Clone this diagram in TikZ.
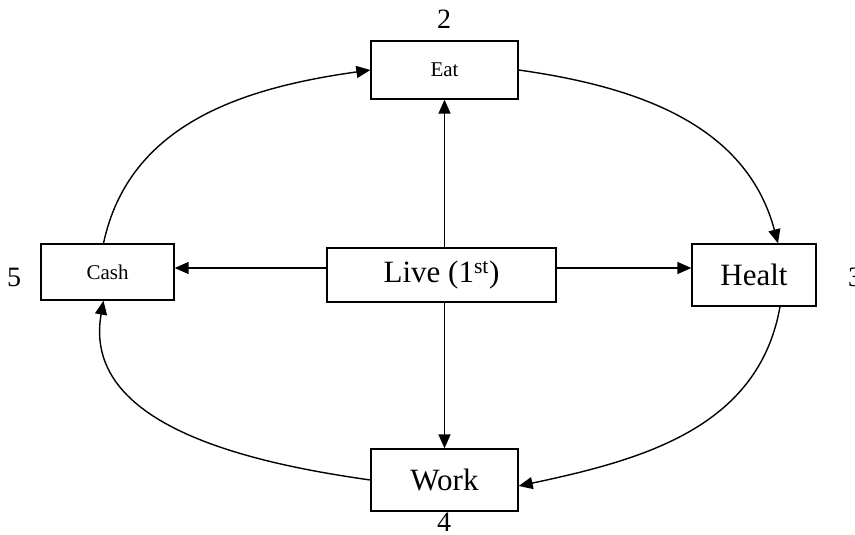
\documentclass[tikz,border=0pt]{standalone}
\usepackage{fontspec}
\setmainfont{Liberation Serif}
\usetikzlibrary{arrows.meta}

\begin{document}
\begin{tikzpicture}[x=1pt,y=1pt,
  box/.style={draw,line width=1.3pt,inner sep=0pt},
  big/.style={font=\fontsize{31}{36}\selectfont},
  small/.style={font=\fontsize{21}{25}\selectfont},
  num/.style={font=\fontsize{28}{32}\selectfont},
  arr/.style={line width=1.4pt,-{Triangle[length=14pt,width=12pt]}}]

\useasboundingbox (0,0) rectangle (855,-535);

\node[box,small,minimum width=147pt,minimum height=58pt] (eat) at (444.5,-70) {Eat};
\node[box,small,minimum width=133pt,minimum height=56pt] (cash) at (107.5,-272) {Cash};
\node[box,big,minimum width=229pt,minimum height=54pt] (live) at (441.5,-275) {Live (1\textsuperscript{st})};
\node[box,big,minimum width=124pt,minimum height=62pt] (healt) at (754,-275) {Healt};
\node[box,big,minimum width=147pt,minimum height=62pt] (work) at (444.5,-480) {Work};

% order numbers
\node[num] (n2) at (444,-19) {2};
\node[num] (n5) at (14,-277) {5};
\node[num] (n3) at (855,-277) {3};
\node[num] (n4) at (444,-522) {4};

\draw[arr] (live.north -| eat) -- (eat.south);
\draw[arr] (live.south -| work) -- (work.north);
\draw[arr] ([yshift=7pt]live.west) -- ([yshift=7pt]live.west -| cash.east);
\draw[arr] ([yshift=7pt]live.east) -- ([yshift=7pt]live.east -| healt.west);

% the outer ring
\draw[arr] ([xshift=-4pt]cash.north) to[out=78,in=188] (eat.west);
\draw[arr] (eat.east) to[out=-8,in=105] ([xshift=24pt]healt.north);
\draw[arr] ([xshift=26pt]healt.south) to[out=-100,in=12] ([yshift=-6pt]work.east);
\draw[arr] (work.west) to[out=172,in=-100] ([xshift=-4pt]cash.south);
\end{tikzpicture}
\end{document}
